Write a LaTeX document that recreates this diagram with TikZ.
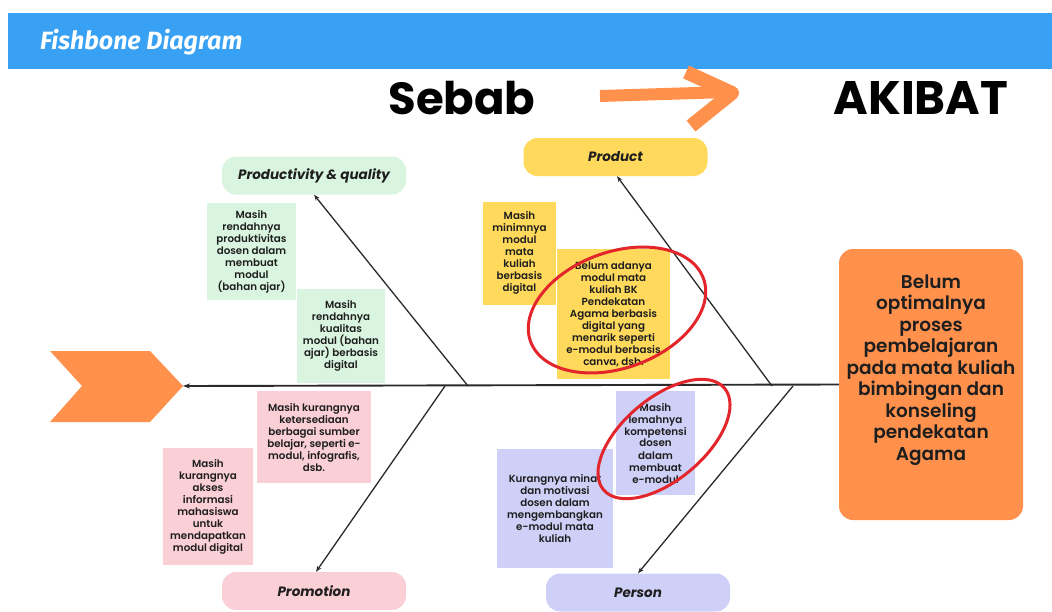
\documentclass[tikz,border=0pt]{standalone}
\usepackage{fontspec}
\setmainfont{Poppins}
\newfontfamily\boxf{Poppins}[UprightFont={* SemiBold}]
\newfontfamily\titlef{Fira Sans}
\usetikzlibrary{arrows.meta}
\definecolor{barblue}{HTML}{38A1F3}
\definecolor{orng}{HTML}{FF914D}
\definecolor{yel}{HTML}{FFD95C}
\definecolor{grn}{HTML}{DAF5DF}
\definecolor{pnk}{HTML}{FACFD6}
\definecolor{lav}{HTML}{CFD0F8}
\definecolor{redc}{HTML}{E2262C}
\definecolor{txt}{HTML}{1E1E1E}
\definecolor{bonec}{HTML}{2A2A2A}
\begin{document}
\begin{tikzpicture}[x=1pt,y=-1pt,
  card/.style={inner sep=0pt, align=center, text=txt, font=\boxf\fontsize{10.3}{12}\selectfont},
  catlab/.style={rounded corners=14pt, minimum width=184pt, minimum height=38pt, inner sep=0pt,
     font=\bfseries\itshape\fontsize{13.5}{16}\selectfont, text=txt},
  bone/.style={line width=1.3pt, draw=bonec, -{Stealth[length=6pt,width=4.5pt]}},
  ring/.style={draw=redc, line width=3pt}
]
\useasboundingbox (0,0) rectangle (1052,611);
\fill[white] (0,0) rectangle (1052,611);
% header bar
\fill[barblue] (8,13) rectangle (1052,69);
\node[anchor=west, text=white, font=\titlef\bfseries\itshape\fontsize{25}{28}\selectfont, inner sep=0pt] (title) at (40,42) {Fishbone Diagram};
% Sebab -> AKIBAT
\node[font=\bfseries\fontsize{45}{47}\selectfont, text=black, inner sep=0pt] (sebab) at (462,98) {Sebab};
\node[font=\bfseries\fontsize{47}{49}\selectfont, text=black, inner sep=0pt] (akibat) at (921,98) {AKIBAT};
\draw[orng, line width=12pt, line cap=butt] (600,96) -- (728,92);
\draw[orng, line width=14pt, line join=round, line cap=butt] (686,72) -- (732,93) -- (691,126);
% fish tail chevron
\fill[orng] (50,351) -- (150,351) -- (183,386) -- (150,422) -- (50,422) -- (82,386) -- cycle;
\coordinate (tail) at (183,386);
% effect box
\node[fill=orng, rounded corners=14pt, minimum width=184pt, minimum height=271pt, inner sep=0pt] (eff) at (931,384.5) {};
\node[align=center, text=txt, font=\boxf\fontsize{18.5}{21.5}\selectfont, inner sep=0pt] (efftext) at (931,370)
  {Belum\\optimalnya\\proses\\pembelajaran\\pada mata kuliah\\bimbingan dan\\konseling\\pendekatan\\Agama};
% category labels
\node[catlab, fill=grn] (prodq) at (314,175.5) {Productivity \& quality};
\node[catlab, fill=yel] (product) at (615.5,157) {Product};
\node[catlab, fill=pnk] (promo) at (314,591) {Promotion};
\node[catlab, fill=lav] (person) at (638,592.5) {Person};
% cause cards
\node[card, fill=grn, minimum width=89pt, minimum height=97pt] (g1) at (251.5,251.5)
  {Masih\\rendahnya\\produktivitas\\dosen dalam\\membuat\\modul\\(bahan ajar)};
\node[card, fill=grn, minimum width=88pt, minimum height=94pt] (g2) at (341,336)
  {Masih\\rendahnya\\kualitas\\modul (bahan\\ajar) berbasis\\digital};
\node[card, fill=yel, minimum width=73pt, minimum height=103pt] (y1) at (519.5,253)
  {Masih\\minimnya\\modul\\mata\\kuliah\\berbasis\\digital};
\node[card, fill=yel, minimum width=113pt, minimum height=130pt] (y2) at (613.5,314)
  {Belum adanya\\modul mata\\kuliah BK\\Pendekatan\\Agama berbasis\\digital yang\\menarik seperti\\e-modul berbasis\\canva, dsb.};
\node[card, fill=pnk, minimum width=114pt, minimum height=92pt] (p1) at (314,437)
  {Masih kurangnya\\ketersediaan\\berbagai sumber\\belajar, seperti e-\\modul, infografis,\\dsb.};
\node[card, fill=pnk, minimum width=90pt, minimum height=117pt] (p2) at (208,506.5)
  {Masih\\kurangnya\\akses\\informasi\\mahasiswa\\untuk\\mendapatkan\\modul digital};
\node[card, fill=lav, minimum width=79pt, minimum height=104pt] (l1) at (655.5,443)
  {Masih\\lemahnya\\kompetensi\\dosen\\dalam\\membuat\\e-modul};
\node[card, fill=lav, minimum width=116pt, minimum height=119pt] (l2) at (555,508.5)
  {Kurangnya minat\\dan motivasi\\dosen dalam\\mengembangkan\\e-modul mata\\kuliah};
% spine
\draw[line width=1.9pt, draw=bonec, -{Stealth[length=7pt,width=5pt]}] (eff.west) -- (tail);
% bones
\coordinate (s1) at (468,386);
\coordinate (s2) at (772,386);
\coordinate (s3) at (445,386);
\coordinate (s4) at (793,386);
\draw[bone] (s1) -- (prodq.south);
\draw[bone] (s2) -- ([xshift=1.5pt]product.south);
\draw[bone] (s3) -- ([xshift=2pt]promo.north);
\draw[bone] (s4) -- (person.north);
% red rings
\draw[ring, rotate around={20:(617,310)}] (617,310) ellipse [x radius=92, y radius=58];
\draw[ring, rotate around={40:(664,439)}] (664,439) ellipse [x radius=79, y radius=41];
\end{tikzpicture}
\end{document}
